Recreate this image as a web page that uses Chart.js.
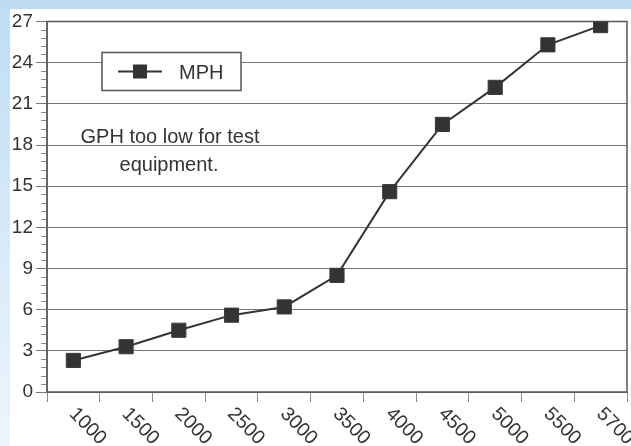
<!DOCTYPE html>
<html>
<head>
<meta charset="utf-8">
<script src="https://cdn.jsdelivr.net/npm/chart.js@4.4.0/dist/chart.umd.min.js"></script>
<style>
  html, body { margin: 0; padding: 0; width: 631px; height: 446px; overflow: hidden; background: #ffffff; }
  #topband { position: absolute; left: 0; top: 0; width: 631px; height: 9px; background: #bddcf4; }
  #leftband { position: absolute; left: 0; top: 9px; width: 10px; height: 437px; background: linear-gradient(#bfddf4, #eef5fc); }
  #panel { position: absolute; left: 10px; top: 9px; width: 621px; height: 437px; background: #ffffff; }
  canvas { display: block; }
</style>
</head>
<body>
<div id="topband"></div>
<div id="leftband"></div>
<div id="panel"><canvas id="c" width="621" height="437"></canvas></div>
<script>
// ---- data ----
const categories = ['1000', '1500', '2000', '2500', '3000', '3500', '4000', '4500', '5000', '5500', '5700'];
const mphValues = [2.3, 3.3, 4.5, 5.6, 6.2, 8.5, 14.6, 19.5, 22.2, 25.3, 26.7];
const seriesLabel = 'MPH';
const noteLines = ['GPH too low for test', 'equipment.'];
const yMin = 0, yMax = 27, yStep = 3, yMinorStep = 0.6;

const FONT = "'Liberation Sans', Arial, Helvetica, sans-serif";
const INK = '#333333';

const framePlugin = {
  id: 'frame',
  beforeDatasetsDraw(chart) {
    const { ctx, chartArea: a } = chart;
    const y = chart.scales.y;
    ctx.save();
    // minor ticks on y axis
    ctx.strokeStyle = '#888';
    ctx.lineWidth = 1;
    const n = Math.round((yMax - yMin) / yMinorStep);
    for (let i = 0; i <= n; i++) {
      if (i % Math.round(yStep / yMinorStep) === 0) continue;
      const py = Math.round(y.getPixelForValue(yMin + i * yMinorStep)) + 0.5;
      ctx.beginPath();
      ctx.moveTo(a.left - 6, py);
      ctx.lineTo(a.left, py);
      ctx.stroke();
    }
    // border of plot area
    ctx.strokeStyle = '#555';
    ctx.lineWidth = 1.5;
    ctx.strokeRect(a.left, a.top, a.right - a.left, a.bottom - a.top);
    ctx.lineWidth = 2;
    ctx.strokeStyle = '#666';
    ctx.beginPath();
    ctx.moveTo(a.left, a.top);
    ctx.lineTo(a.left, a.bottom + 1);
    ctx.stroke();
    // legend box (drawn over gridlines)
    const bx = a.left + 55, by = a.top + 31, bw = 139, bh = 38;
    ctx.fillStyle = '#fff';
    ctx.fillRect(bx, by, bw, bh);
    ctx.strokeStyle = '#555';
    ctx.lineWidth = 1.5;
    ctx.strokeRect(bx, by, bw, bh);
    const ly = by + 19;
    ctx.strokeStyle = INK;
    ctx.lineWidth = 2;
    ctx.beginPath();
    ctx.moveTo(bx + 16, ly);
    ctx.lineTo(bx + 60, ly);
    ctx.stroke();
    ctx.fillStyle = INK;
    ctx.fillRect(bx + 38 - 7, ly - 7, 14, 14);
    ctx.font = '20px ' + FONT;
    ctx.textAlign = 'left';
    ctx.textBaseline = 'alphabetic';
    ctx.fillText(seriesLabel, bx + 77, by + 26);
    // note text
    ctx.font = '20px ' + FONT;
    ctx.textAlign = 'center';
    ctx.fillStyle = INK;
    ctx.fillText(noteLines[0], a.left + 123, a.top + 121);
    ctx.fillText(noteLines[1], a.left + 122, a.top + 149);
    ctx.restore();
  },
  afterDraw(chart) {
    const { ctx, chartArea: a } = chart;
    const x = chart.scales.x;
    ctx.save();
    ctx.font = '19.5px ' + FONT;
    ctx.fillStyle = INK;
    ctx.textAlign = 'left';
    ctx.textBaseline = 'middle';
    categories.forEach((lab, i) => {
      const px = x.getPixelForValue(i);
      ctx.save();
      ctx.translate(px - 1, a.bottom + 19);
      ctx.rotate(Math.PI / 4);
      ctx.fillText(lab, 0, 0);
      ctx.restore();
    });
    ctx.restore();
  }
};

new Chart(document.getElementById('c'), {
  type: 'line',
  data: {
    labels: categories,
    datasets: [{
      label: seriesLabel,
      data: mphValues,
      borderColor: INK,
      borderWidth: 2,
      pointStyle: 'rect',
      pointRadius: 10,
      pointBackgroundColor: INK,
      pointBorderColor: '#3a3a3a',
      pointBorderWidth: 1,
      tension: 0
    }]
  },
  options: {
    responsive: false,
    animation: false,
    events: [],
    layout: { autoPadding: false, padding: { top: 9, right: 4, left: 0, bottom: 0 } },
    plugins: { legend: { display: false }, tooltip: { enabled: false } },
    scales: {
      x: {
        type: 'category',
        offset: true,
        grid: { offset: true, drawOnChartArea: false, drawTicks: true, tickLength: 10, color: '#888', lineWidth: 1 },
        border: { display: false },
        ticks: { display: false },
        afterFit(s) { s.height = 54; }
      },
      y: {
        min: yMin,
        max: yMax,
        ticks: { stepSize: yStep, color: INK, font: { family: FONT, size: 19, lineHeight: 1 }, padding: 3 },
        grid: { color: '#777', lineWidth: 1, drawTicks: true, tickLength: 11 },
        border: { display: false },
        afterFit(s) { s.width = 37; }
      }
    }
  },
  plugins: [framePlugin]
});
</script>
</body>
</html>
